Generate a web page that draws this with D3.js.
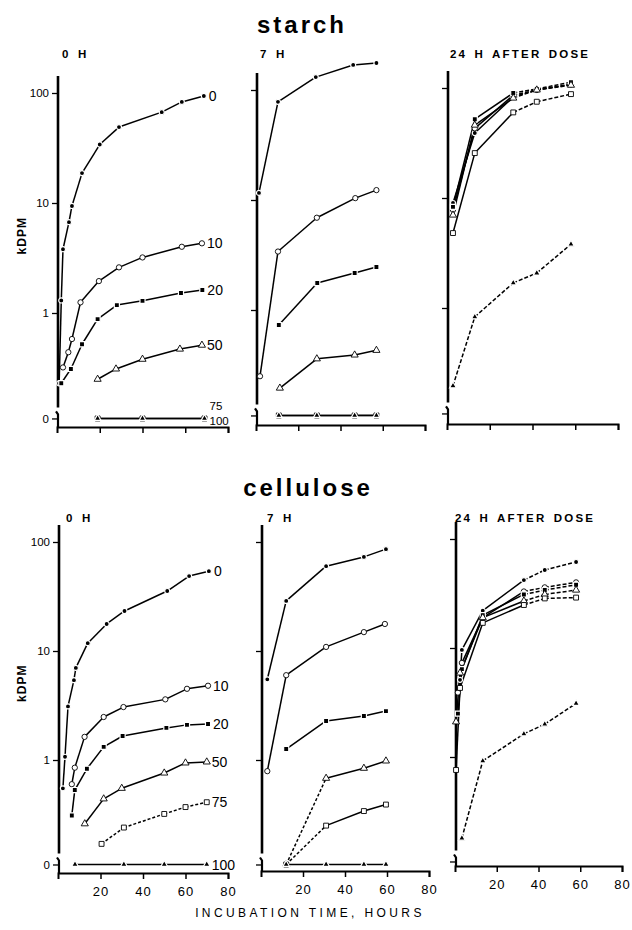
<!DOCTYPE html>
<html>
<head>
<meta charset="utf-8">
<script src="https://cdn.jsdelivr.net/npm/d3@7"></script>
<style>
body { margin: 0; background: #fff; }
text { font-family: "Liberation Sans", Arial, sans-serif; fill: #000; }
</style>
</head>
<body>
<div id="chart"></div>
<script>
// series order (label = % of ... in diet), each series is a list of [hours, kDPM]
var seriesNames = ["0", "10", "20", "50", "75", "100"];
var xTicks = [20, 40, 60, 80];
var yTicks = [100, 10, 1, 0];

var starch0H = [
    [[1, 0.23], [2, 1.3], [2.8, 3.8], [5.6, 6.7], [7, 9.4], [11.7, 18.7], [20, 34], [29, 49], [49, 67], [58.4, 83], [68.7, 94]],
    [[2.8, 0.32], [5.3, 0.44], [7, 0.58], [11, 1.25], [19.6, 1.95], [29, 2.6], [40, 3.2], [58.4, 4.0], [67.8, 4.3]],
    [[2, 0.23], [6.5, 0.31], [11.7, 0.52], [19, 0.88], [28, 1.18], [40, 1.29], [58, 1.52], [68, 1.62]],
    [[19, 0.25], [27.6, 0.31], [40, 0.38], [57.5, 0.47], [67.8, 0.51]],
    [[19, 0], [40, 0], [69, 0]],
    [[19, 0], [40, 0], [69, 0]]
];
var starch7H = [
    [[1.4, 11.6], [10.4, 78], [28.3, 131], [46, 169], [57, 176]],
    [[1.9, 0.25], [10.4, 3.4], [28.8, 6.9], [47, 10.4], [57, 12.3]],
    [[10.8, 0.73], [29, 1.76], [46.7, 2.17], [57, 2.46]],
    [[11.3, 0.195], [28.8, 0.36], [46.7, 0.39], [57, 0.43]],
    [[10.8, 0], [28.8, 0], [46.7, 0], [57, 0]],
    [[10.8, 0], [28.8, 0], [46.7, 0], [57, 0]]
];
var starch24H = [
    [[2.8, 9.0], [13, 39], [31, 83], [42, 96], [58, 108]],
    [[2.8, 7.8], [13, 43], [31, 86], [42, 96], [58, 108]],
    [[2.8, 8.3], [13, 52], [31, 90], [42, 98], [58, 113]],
    [[2.8, 7.0], [13, 46], [31, 81], [42, 96], [58, 106]],
    [[2.8, 4.8], [13, 25.6], [31, 60], [42, 75], [58, 88]],
    [[2.8, 0.196], [13, 0.83], [31, 1.69], [42, 2.08], [58, 3.8]]
];
var cellulose0H = [
    [[2.3, 0.55], [3.3, 1.07], [4.7, 3.1], [7.5, 5.4], [8.4, 7.0], [14, 11.8], [22.9, 17.7], [31.3, 23.3], [51.4, 35.5], [61.7, 48.7], [71, 54]],
    [[6.5, 0.6], [7.9, 0.85], [12.5, 1.63], [21.5, 2.48], [30.8, 3.06], [50.5, 3.6], [60.7, 4.5], [70.6, 4.8]],
    [[6.5, 0.31], [7.9, 0.53], [13.6, 0.83], [21.5, 1.32], [30.4, 1.66], [51, 1.97], [60.7, 2.1], [70.6, 2.14]],
    [[12.6, 0.26], [21.5, 0.44], [30, 0.55], [50, 0.76], [60, 0.94], [70, 0.96]],
    [[20.5, 0.17], [31, 0.24], [50, 0.32], [60, 0.37], [70, 0.41]],
    [[8, 0], [31, 0], [50, 0], [70, 0]]
];
var cellulose7H = [
    [[3, 5.5], [12, 28.8], [31, 60], [49, 73], [59.5, 86]],
    [[3, 0.79], [12, 6.0], [31, 10.9], [49, 14.9], [59, 17.7]],
    [[12, 1.26], [31, 2.28], [49, 2.53], [59.5, 2.81]],
    [[12, 0], [31, 0.68], [49, 0.84], [59.5, 0.98]],
    [[12, 0], [31, 0.25], [49, 0.34], [59.5, 0.39]],
    [[12, 0], [31, 0], [49, 0], [59.5, 0]]
];
var cellulose24H = [
    [[2.4, 5.1], [3.3, 9.6], [13.3, 22], [33, 42], [43, 52], [58, 61.5]],
    [[1.4, 3.9], [3.3, 7.3], [13.3, 19], [33, 33], [43, 36], [58, 40]],
    [[1.4, 2.5], [3.3, 6.4], [13.3, 20], [33, 31], [43, 34], [58, 38]],
    [[0.5, 2.1], [2.4, 5.9], [13.3, 19], [33, 27], [43, 31], [58, 34]],
    [[0.5, 0.76], [2.4, 4.3], [13.3, 17], [33, 24.8], [43, 28.5], [58, 29]],
    [[3.3, 0.18], [13.3, 0.92], [33, 1.63], [43, 2.0], [58, 3.1]]
];

var ZERO = 0.11; // where "0" sits on the log axis
var width = 632, height = 930;

// marker per series: filled dot, open circle, filled square, open triangle, open square, filled triangle
var markerType = [d3.symbolCircle, d3.symbolCircle, d3.symbolSquare, d3.symbolTriangle, d3.symbolSquare, d3.symbolTriangle];
var markerFill = ["#000", "#fff", "#000", "#fff", "#fff", "#000"];
var markerSize = [20, 22, 26, 22, 24, 20];

var panels = [
    { data: starch0H, x0: 57, x80: 228, y1: 313, y100: 93, axisY: 427, sub: "0 H", subX: 62, subY: 58, labels: "top", col: 1 },
    { data: starch7H, x0: 256, x80: 425, y1: 310, y100: 90, axisY: 425, sub: "7 H", subX: 260, subY: 58, col: 2 },
    { data: starch24H, x0: 447, x80: 618, y1: 308, y100: 88, axisY: 424, sub: "24 H AFTER DOSE", subX: 450, subY: 58, col: 3 },
    { data: cellulose0H, x0: 58, x80: 228, y1: 760, y100: 542, axisY: 873, sub: "0 H", subX: 66, subY: 522, labels: "bottom", col: 1, xlab: true },
    { data: cellulose7H, x0: 261, x80: 429, y1: 760, y100: 542, axisY: 871, sub: "7 H", subX: 267, subY: 522, col: 2, xlab: true },
    { data: cellulose24H, x0: 455, x80: 622, y1: 757, y100: 539, axisY: 866, sub: "24 H AFTER DOSE", subX: 455, subY: 522, col: 3, xlab: true }
];

var svg = d3.select("#chart").append("svg")
    .attr("width", width)
    .attr("height", height);

svg.append("text").attr("x", 302).attr("y", 33)
    .attr("text-anchor", "middle").attr("font-size", "24px").attr("font-weight", "bold")
    .attr("letter-spacing", "3px").text("starch");
svg.append("text").attr("x", 308).attr("y", 496)
    .attr("text-anchor", "middle").attr("font-size", "24px").attr("font-weight", "bold")
    .attr("letter-spacing", "3px").text("cellulose");

svg.append("text").attr("x", 310).attr("y", 917)
    .attr("text-anchor", "middle").attr("font-size", "12px")
    .attr("letter-spacing", "3.4px").text("INCUBATION TIME, HOURS");

function dashFor(p, s, t0) {
    if (p.col === 3 && (s === 5 || t0 >= 25)) return "4,2";
    if (p.col === 1 && s === 4 && p.xlab) return "3,2";
    if (p.col === 2 && p.xlab && (s === 3 || s === 4) && t0 < 20) return "3,2";
    return null;
}

panels.forEach(function (p) {
    var x = d3.scaleLinear().domain([0, 80]).range([p.x0, p.x80]);
    var y = d3.scaleLog().domain([1, 100]).range([p.y1, p.y100]);
    var yv = function (v) { return y(v === 0 ? ZERO : v); };
    var g = svg.append("g");

    // subtitle
    g.append("text").attr("x", p.subX).attr("y", p.subY)
        .attr("font-size", "11.5px").attr("font-weight", "bold")
        .attr("letter-spacing", "2.2px").attr("word-spacing", "2px")
        .text(p.sub);

    // y axis (ticks only, own axis line with a break near 0)
    var ya = g.append("g")
        .attr("transform", "translate(" + (p.x0 + 1) + ",0)")
        .call(d3.axisLeft(y)
            .tickValues(yTicks.map(function (d) { return d === 0 ? ZERO : d; }))
            .tickSize(6)
            .tickFormat(function (d) { return p.col === 1 ? (d === ZERO ? "0" : d3.format("d")(d)) : ""; }));
    ya.select(".domain").remove();
    ya.selectAll(".tick line").attr("stroke", "#000").attr("stroke-width", 1.3);
    ya.selectAll(".tick text").attr("font-size", "11.5px").attr("font-family", "Liberation Sans, Arial").attr("fill", "#000");

    var yTop = y(100) - 17, yZ = y(ZERO);
    g.append("line").attr("x1", p.x0 + 1).attr("x2", p.x0 + 1)
        .attr("y1", yTop).attr("y2", yZ - 11)
        .attr("stroke", "#000").attr("stroke-width", 2.6);
    g.append("path")
        .attr("d", "M" + (p.x0 - 1) + "," + (yZ - 7) + "L" + (p.x0 + 1) + "," + (yZ - 4) + "L" + (p.x0 + 1) + "," + p.axisY)
        .attr("stroke", "#000").attr("stroke-width", 2.2).attr("fill", "none");

    // x axis
    var xa = g.append("g")
        .attr("transform", "translate(0," + p.axisY + ")")
        .call(d3.axisBottom(x).tickValues(xTicks).tickSizeOuter(0).tickSize(6)
            .tickFormat(function (d) { return p.xlab ? d : ""; }));
    xa.select(".domain").attr("stroke", "#000").attr("stroke-width", 2);
    xa.selectAll(".tick line").attr("stroke", "#000").attr("stroke-width", 1.5);
    xa.selectAll(".tick text").attr("font-size", "13px").attr("font-family", "Liberation Sans, Arial")
        .attr("fill", "#000").attr("dy", "1.05em").attr("letter-spacing", "1px");

    // lines, segment by segment so some parts can be dashed
    p.data.forEach(function (pts, s) {
        for (var i = 0; i < pts.length - 1; i++) {
            g.append("line")
                .attr("x1", x(pts[i][0])).attr("y1", yv(pts[i][1]))
                .attr("x2", x(pts[i + 1][0])).attr("y2", yv(pts[i + 1][1]))
                .attr("stroke", "#000").attr("stroke-width", 1.5)
                .attr("stroke-dasharray", dashFor(p, s, pts[i][0]));
        }
    });

    // markers with a white halo so lines break around them
    p.data.forEach(function (pts, s) {
        var sym = d3.symbol().type(markerType[s]).size(markerSize[s]);
        g.selectAll(null).data(pts).enter().append("path")
            .attr("transform", function (d) { return "translate(" + x(d[0]) + "," + yv(d[1]) + ")"; })
            .attr("d", sym)
            .attr("fill", markerFill[s])
            .attr("stroke", markerFill[s] === "#000" ? "#fff" : "#000")
            .attr("stroke-width", markerFill[s] === "#000" ? 1.2 : 0.9);
    });

    // series labels at the right end of the first column
    if (p.labels) {
        p.data.forEach(function (pts, s) {
            var last = pts[pts.length - 1];
            var dy = 0, fs = 14;
            if (p.labels === "top" && s === 4) { dy = -13; fs = 11.5; }
            if (p.labels === "top" && s === 5) { dy = 2; fs = 11.5; }
            g.append("text")
                .attr("x", x(last[0]) + 5)
                .attr("y", yv(last[1]) + dy)
                .attr("dy", "0.36em")
                .attr("font-size", fs + "px")
                .text(seriesNames[s]);
        });
    }

    // kDPM label on the left column
    if (p.col === 1) {
        var cy = (y(100) + y(ZERO)) / 2 - 20;
        g.append("text")
            .attr("transform", "translate(26," + cy + ") rotate(-90)")
            .attr("text-anchor", "middle")
            .attr("font-size", "12px").attr("font-weight", "bold")
            .attr("letter-spacing", "1px")
            .text("kDPM");
    }
});
</script>
</body>
</html>
